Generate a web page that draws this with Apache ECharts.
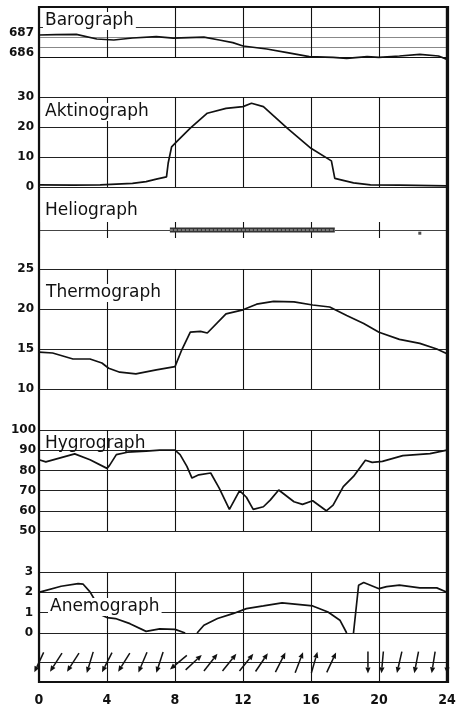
<!DOCTYPE html>
<html>
<head>
<meta charset="utf-8">
<title>Registrierkurven</title>
<script src="https://cdn.jsdelivr.net/npm/echarts@6/dist/echarts.min.js"></script>
<style>
  html, body { margin: 0; padding: 0; background: #fff; }
  #chart { width: 463px; height: 710px; }
</style>
</head>
<body>
<div id="chart"></div>
<script>
// hour ticks along the bottom
var hourTicks = [0, 4, 8, 12, 16, 20, 24];

// Barograph (mm)
var baroTicks = [686, 687];
var baroData = [
    [0, 687.1], [1, 687.12], [2.2, 687.13], [3.4, 686.9], [4.4, 686.85], [5.5, 686.95],
    [6.9, 687.02], [7.9, 686.94], [8.8, 686.97], [9.7, 686.99], [10.6, 686.85], [11.4, 686.72],
    [12, 686.55], [13.4, 686.4], [14.6, 686.22], [15.9, 686.02], [17.3, 685.98], [18.1, 685.93],
    [19.3, 686.02], [20, 685.98], [21.2, 686.05], [22.4, 686.13], [23.5, 686.05], [24, 685.88]
];

// Aktinograph
var aktTicks = [0, 10, 20, 30];
var aktData = [
    [0, 0.7], [2, 0.6], [3.6, 0.7], [5.5, 1.2], [6.3, 1.8], [6.9, 2.6], [7.5, 3.4], [7.6, 8],
    [7.8, 13.4], [8.1, 15.1], [8.9, 19.6], [9.9, 24.6], [11, 26.2], [12, 26.8], [12.5, 27.9],
    [13.2, 26.8], [14.6, 19.6], [16, 12.9], [17.2, 8.7], [17.4, 2.9], [17.5, 2.3], [18.5, 1.4],
    [19.5, 0.7], [21.2, 0.6], [24, 0.4]
];

// Heliograph: sunshine trace and a single spot
var helioSun = [[7.7, 1], [17.4, 1]];
var helioSpot = [[22.4, 0.6]];

// Thermograph (°C)
var thermoTicks = [10, 15, 20, 25];
var thermoData = [
    [0, 14.6], [0.8, 14.5], [2, 13.75], [3, 13.75], [3.7, 13.25], [4.1, 12.6], [4.75, 12.1],
    [5.7, 11.9], [6.9, 12.4], [8, 12.8], [8.4, 14.9], [8.9, 17.1], [9.5, 17.2], [9.9, 17.0],
    [11, 19.4], [12, 19.9], [12.8, 20.6], [13.8, 20.95], [15, 20.9], [16.1, 20.5], [17.1, 20.25],
    [18.1, 19.2], [19.1, 18.2], [20, 17.1], [21.2, 16.2], [22.4, 15.7], [23.4, 15.0], [24, 14.4]
];

// Hygrograph (%)
var hygroTicks = [50, 60, 70, 80, 90, 100];
var hygroData = [
    [0, 85.3], [0.4, 84.2], [2.1, 88.2], [3, 85.3], [4, 81], [4.15, 82.5], [4.55, 87.8], [5.2, 89],
    [6.3, 89.5], [7.1, 90], [8, 90], [8.3, 87.8], [8.7, 82], [9, 76.2], [9.4, 77.8], [10.1, 78.7],
    [10.6, 71.2], [11.2, 60.7], [11.8, 70], [12.2, 66.7], [12.6, 60.7], [13.2, 62], [13.6, 65.3],
    [14.1, 70.3], [15, 64.5], [15.5, 63.2], [16.1, 65], [16.9, 60], [17.3, 62.8], [17.9, 72],
    [18.5, 77], [19.2, 85], [19.6, 84], [20.2, 84.5], [21.4, 87.3], [23, 88.3], [24, 90]
];

// Anemograph (m/s), '-' = no trace
var anemoTicks = [0, 1, 2, 3];
var anemoData = [
    [0, 2.0], [0.2, 2.05], [1.3, 2.3], [2.3, 2.43], [2.6, 2.4], [3, 2.02], [3.3, 1.6], [3.7, 0.87],
    [4, 0.76], [4.5, 0.71], [5.35, 0.46], [6.3, 0.08], [7.1, 0.2], [8, 0.18], [8.6, 0], [8.9, '-'],
    [9.3, 0], [9.7, 0.38], [10.5, 0.71], [11.4, 0.95], [12.2, 1.2], [13.2, 1.33], [14.3, 1.48],
    [15.35, 1.4], [16.1, 1.33], [17, 1.03], [17.7, 0.63], [18.1, 0], [18.3, '-'], [18.5, 0],
    [18.8, 2.35], [19.1, 2.48], [20, 2.18], [20.45, 2.28], [21.2, 2.35], [22.4, 2.22],
    [23.4, 2.22], [24, 2.0]
];

// wind direction arrows (direction the arrow points, degrees clockwise from up)
var windHours = [0, 1, 2, 3, 4, 5, 6.1, 7.1, 8.2, 9.1, 10.1, 11.2, 12.2, 13.1, 14.2, 15.3, 16.2, 17.2,
    19.35, 20.2, 21.2, 22.2, 23.2, 24];
var windDir = [205, 213, 213, 197, 207, 212, 203, 198, 230, 47, 38, 39, 39, 34, 27, 21, 16, 25,
    180, 185, 193, 191, 189, 180];

var panelNames = ['Barograph', 'Aktinograph', 'Heliograph', 'Thermograph', 'Hygrograph', 'Anemograph'];

var ink = '#111';
var numFont = '"DejaVu Sans", sans-serif';
var frame = { left: 39, width: 408 };

var chart = echarts.init(document.getElementById('chart'));

function panelGrid(top, height) {
    return { left: frame.left, width: frame.width, top: top, height: height, show: false };
}

function panelX(idx, showSplit) {
    return {
        type: 'value', gridIndex: idx, min: 0, max: 24, interval: 4,
        axisLine: { show: false }, axisTick: { show: false }, axisLabel: { show: false },
        splitLine: { show: showSplit, lineStyle: { color: ink, width: 1.1 } }
    };
}

function panelY(idx, min, max, interval, ticks, colors, extra) {
    var y = {
        type: 'value', gridIndex: idx, min: min, max: max, interval: interval,
        axisLine: { show: false }, axisTick: { show: false },
        axisLabel: {
            show: !!ticks, margin: 5, color: ink, fontSize: 12, fontWeight: 'bold', fontFamily: numFont,
            formatter: function (v) { return ticks && ticks.indexOf(v) >= 0 ? String(v) : ''; }
        },
        splitLine: { show: true, lineStyle: { color: colors || '#222', width: 1 } }
    };
    if (extra) Object.assign(y.axisLabel, extra);
    return y;
}

function curve(idx, data, clip) {
    return {
        type: 'line', xAxisIndex: idx, yAxisIndex: idx, data: data,
        showSymbol: false, smooth: false, clip: clip !== false, connectNulls: false,
        lineStyle: { color: ink, width: 1.7 }, z: 3
    };
}

var titleTops = [12, 103, 202, 284, 435, 598];
var titleLefts = [43, 43, 43, 44, 43, 48];

var option = {
    animation: false,
    backgroundColor: '#fff',
    title: panelNames.map(function (name, i) {
        return {
            text: name, left: titleLefts[i], top: titleTops[i],
            padding: [0, 2], backgroundColor: i === 4 ? 'transparent' : '#fff',
            textStyle: { fontFamily: '"DejaVu Sans", sans-serif', fontSize: 17, fontWeight: 'normal', color: ink, lineHeight: 18 }
        };
    }),
    grid: [
        { left: frame.left, width: frame.width, top: 7, height: 675, show: true, borderColor: ink, borderWidth: 2.2 },
        panelGrid(7, 50),     // barograph
        panelGrid(97, 90),    // aktinograph
        panelGrid(222, 16),   // heliograph
        panelGrid(269, 120),  // thermograph
        panelGrid(430, 101),  // hygrograph
        panelGrid(572, 61),   // anemograph
        panelGrid(633, 49)    // wind row
    ],
    graphic: [
        // heavier right-hand edge of the frame
        { type: 'line', shape: { x1: 447.5, y1: 6, x2: 447.5, y2: 683 }, style: { stroke: ink, lineWidth: 3.2 }, z: 10 }
    ],
    xAxis: [
        {
            type: 'value', gridIndex: 0, min: 0, max: 24, interval: 4,
            axisLine: { show: false }, axisTick: { show: false }, splitLine: { show: false },
            axisLabel: {
                margin: 11, color: ink, fontSize: 14, fontWeight: 'bold',
                fontFamily: '"DejaVu Sans Condensed", "Liberation Sans Narrow", "DejaVu Sans", sans-serif',
                formatter: function (v) { return hourTicks.indexOf(v) >= 0 ? String(v) : ''; }
            }
        },
        panelX(1, true), panelX(2, true), panelX(3, true), panelX(4, true),
        panelX(5, true), panelX(6, true), panelX(7, true)
    ],
    yAxis: [
        { type: 'value', gridIndex: 0, show: false, min: 0, max: 1 },
        panelY(1, 686, 688.5, 0.5, baroTicks, ['#111', '#888', '#888', '#333', 'rgba(0,0,0,0)', 'rgba(0,0,0,0)'], { verticalAlign: 'bottom', lineHeight: 8 }),
        panelY(2, 0, 30, 10, aktTicks),
        panelY(3, 0, 2, 1, null, ['rgba(0,0,0,0)', '#444', 'rgba(0,0,0,0)']),
        panelY(4, 10, 25, 5, thermoTicks),
        panelY(5, 50, 100, 10, hygroTicks, null, { margin: 3 }),
        panelY(6, 0, 3, 1, anemoTicks, null, { margin: 6 }),
        panelY(7, 0, 5, 1, null, ['rgba(0,0,0,0)', 'rgba(0,0,0,0)', '#222', 'rgba(0,0,0,0)', 'rgba(0,0,0,0)', 'rgba(0,0,0,0)'])
    ],
    series: [
        curve(1, baroData, false),
        curve(2, aktData),
        {
            type: 'line', xAxisIndex: 3, yAxisIndex: 3, data: helioSun, showSymbol: false,
            lineStyle: { color: '#333', width: 5 }, z: 3
        },
        {
            type: 'line', xAxisIndex: 3, yAxisIndex: 3, data: helioSun, showSymbol: false,
            lineStyle: { color: '#777', width: 2, type: [3, 1] }, z: 4
        },
        {
            type: 'scatter', xAxisIndex: 3, yAxisIndex: 3, data: helioSpot,
            symbol: 'rect', symbolSize: 3, itemStyle: { color: '#222' }, z: 4
        },
        curve(4, thermoData),
        curve(5, hygroData),
        curve(6, anemoData, false),
        {
            type: 'custom', xAxisIndex: 7, yAxisIndex: 7,
            data: windHours.map(function (h, i) { return [h, 2, windDir[i]]; }),
            renderItem: function (params, api) {
                var c = api.coord([api.value(0), api.value(1)]);
                var a = api.value(2) * Math.PI / 180;
                var dx = Math.sin(a), dy = -Math.cos(a);
                var half = 11, headLen = 6, headW = 2.6;
                var tail = [c[0] - dx * half, c[1] - dy * half];
                var head = [c[0] + dx * half, c[1] + dy * half];
                var base = [head[0] - dx * headLen, head[1] - dy * headLen];
                var px = -dy, py = dx;
                return {
                    type: 'group',
                    children: [
                        {
                            type: 'line',
                            shape: { x1: tail[0], y1: tail[1], x2: base[0], y2: base[1] },
                            style: { stroke: ink, lineWidth: 1.5 }
                        },
                        {
                            type: 'polygon',
                            shape: { points: [head, [base[0] + px * headW, base[1] + py * headW], [base[0] - px * headW, base[1] - py * headW]] },
                            style: { fill: ink }
                        }
                    ]
                };
            },
            z: 3
        }
    ]
};

chart.setOption(option);
</script>
</body>
</html>
